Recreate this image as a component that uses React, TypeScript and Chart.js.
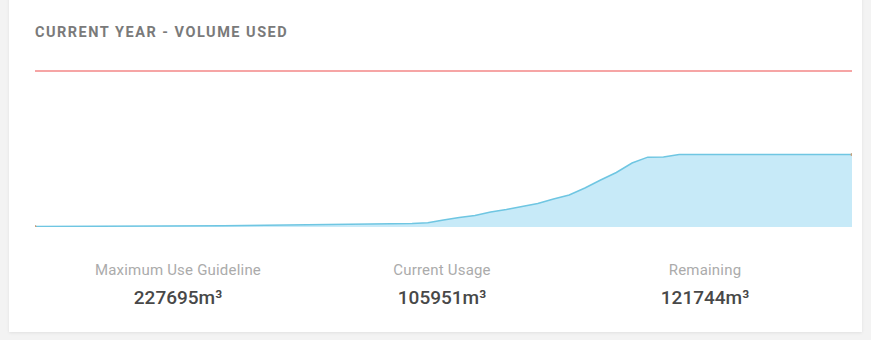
import React, { useEffect, useRef } from "react";
import { Chart, registerables } from "chart.js";

Chart.register(...registerables);

// Week of the year for each cumulative reading
const weeks = [0, 4, 8, 12, 16, 20, 24, 25, 26, 27, 28, 29, 30, 31, 32, 33, 34, 35, 36, 37, 38, 39, 40, 41, 44, 48, 52];
// Cumulative volume used (m³)
const usage = [900, 1200, 1500, 2000, 2900, 4100, 5100, 6100, 10200, 13900, 16800, 21900, 25600, 29900, 34300, 40900, 46700, 57000, 68600, 79600, 93500, 102000, 102400, 105951, 105951, 105951, 105951];

const guideline = 227695;
const currentUsage = 105951;
const remaining = guideline - currentUsage;

const statLabels = ["Maximum Use Guideline", "Current Usage", "Remaining"];
const statValues = [guideline, currentUsage, remaining];
const statCenters = [178, 442, 705];

// Chart.js pads the plot area by the line's overflow; the canvas is widened by this much on every side
const PAD = 4;

export default function App() {
  const canvasRef = useRef<HTMLCanvasElement | null>(null);

  useEffect(() => {
    if (!canvasRef.current) return;
    const last = weeks[weeks.length - 1];
    const chart = new Chart(canvasRef.current, {
      type: "line",
      data: {
        datasets: [
          {
            label: "Maximum Use Guideline",
            data: [
              { x: weeks[0], y: guideline },
              { x: last, y: guideline },
            ],
            borderColor: "#f6a5a5",
            borderWidth: 2,
            pointRadius: 0,
            fill: false,
            tension: 0,
          },
          {
            label: "Current Usage",
            data: weeks.map((w, i) => ({ x: w, y: usage[i] })),
            borderColor: "#6fc6e2",
            backgroundColor: "#c7eaf8",
            borderWidth: 1.5,
            pointRadius: weeks.map((_, i) => (i === 0 || i === weeks.length - 1 ? 1.5 : 0)),
            pointBackgroundColor: "#c9a07a",
            pointBorderWidth: 0,
            fill: "origin",
            tension: 0,
          },
        ],
      },
      options: {
        animation: false,
        responsive: false,
        maintainAspectRatio: false,
        layout: { padding: 0 },
        plugins: { legend: { display: false }, tooltip: { enabled: false } },
        scales: {
          x: { type: "linear", min: 0, max: last, display: false },
          y: { min: 0, max: 260000, display: false },
        },
      },
    });
    return () => chart.destroy();
  }, []);

  const cw = 817 + PAD * 2;
  const ch = 178 + PAD * 2;

  return (
    <div
      style={{
        position: "fixed",
        inset: 0,
        background: "#f3f3f3",
        fontFamily: "Roboto, 'Noto Sans', sans-serif",
      }}
    >
      <div
        style={{
          position: "absolute",
          left: 9,
          top: -6,
          width: 853,
          height: 338,
          background: "#ffffff",
          boxShadow: "0 1px 3px rgba(0,0,0,0.08)",
        }}
      />
      <div
        style={{
          position: "absolute",
          left: 35,
          top: 25,
          fontSize: 14.5,
          fontWeight: 700,
          letterSpacing: 1.5,
          color: "#7a7a7a",
          lineHeight: "16px",
          whiteSpace: "nowrap",
        }}
      >
        CURRENT YEAR - VOLUME USED
      </div>
      <canvas
        ref={canvasRef}
        width={cw}
        height={ch}
        style={{ position: "absolute", left: 35 - PAD, top: 49 - PAD, width: cw, height: ch }}
      />
      {statLabels.map((label, i) => (
        <div
          key={label}
          style={{
            position: "absolute",
            left: statCenters[i] - 130,
            width: 260,
            top: 261,
            textAlign: "center",
          }}
        >
          <div style={{ fontSize: 15, fontWeight: 400, color: "#ababab", lineHeight: "18px", letterSpacing: 0.2 }}>
            {label}
          </div>
          <div
            style={{
              fontSize: 19,
              fontWeight: 500,
              color: "#484848",
              lineHeight: "22px",
              marginTop: 8,
            }}
          >
            {statValues[i]}m³
          </div>
        </div>
      ))}
    </div>
  );
}
